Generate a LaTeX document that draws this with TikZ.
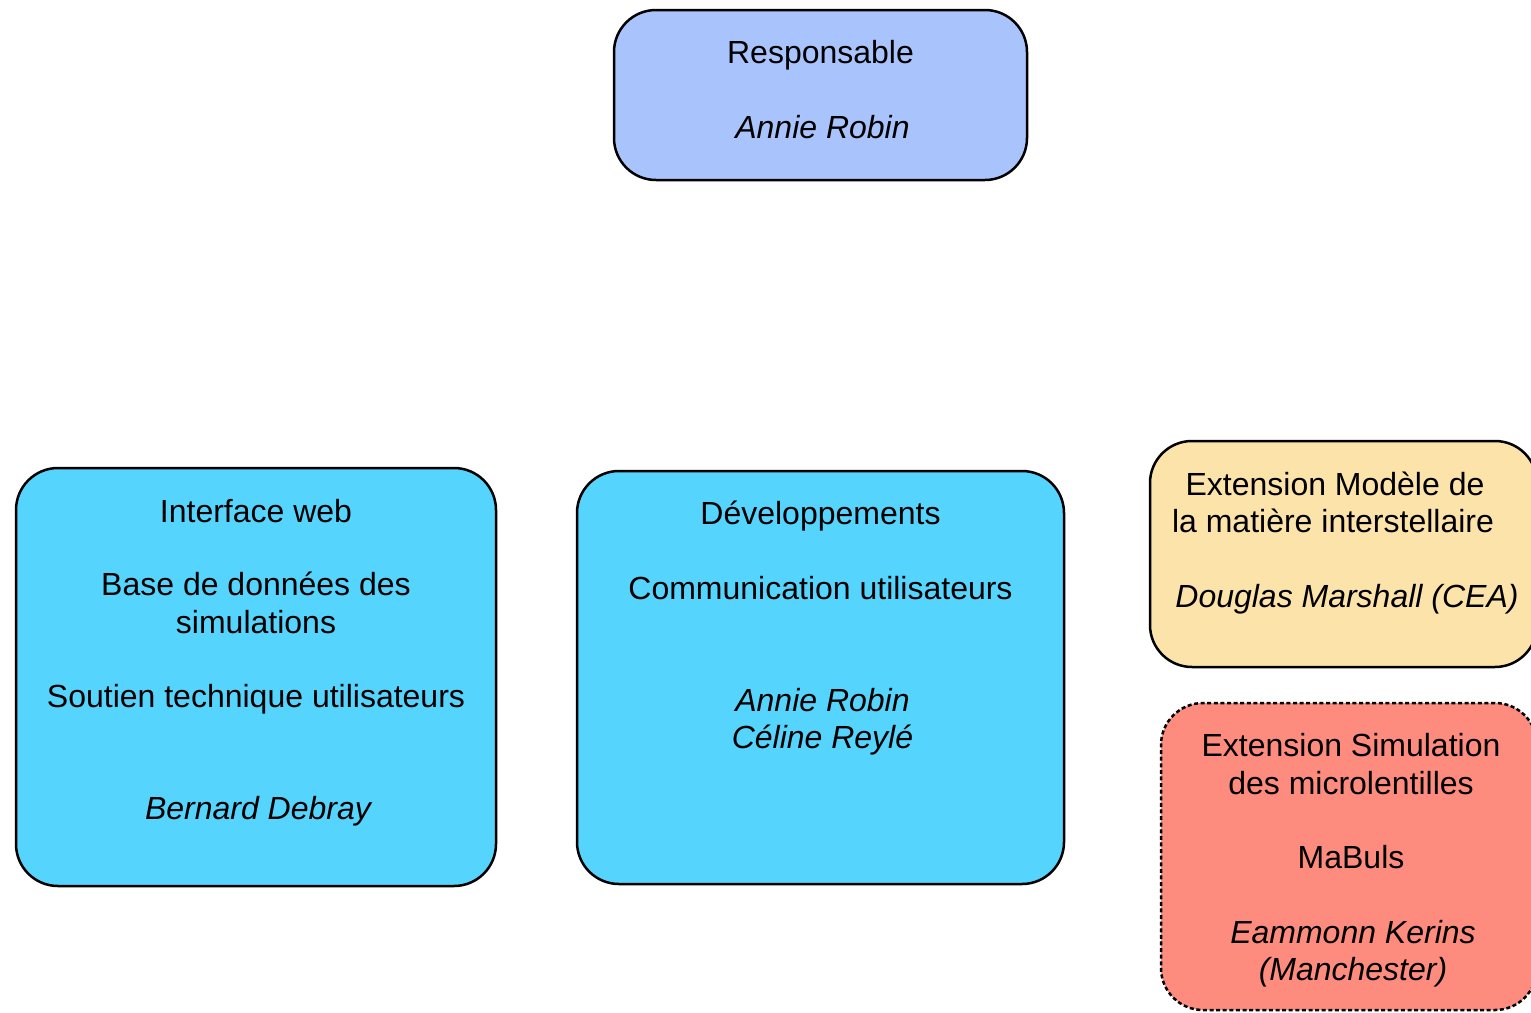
\documentclass[tikz,border=0pt]{standalone}
\usepackage{fontspec}
\setmainfont{Liberation Sans}
\definecolor{blueR}{HTML}{A9C4FC}
\definecolor{cyanB}{HTML}{55D4FD}
\definecolor{peach}{HTML}{FCE3AA}
\definecolor{salmon}{HTML}{FE8C7E}
\tikzset{
  box/.style={draw=black, line width=1.25pt, rounded corners=21pt, inner sep=0pt, rectangle},
  dashbox/.style={box, dash pattern=on 2pt off 1.3pt},
  txt/.style={anchor=base, inner sep=0pt, font=\fontsize{16pt}{19pt}\selectfont},
  persname/.style={txt, font=\fontsize{16pt}{19pt}\selectfont\itshape, xshift=1pt}
}
\begin{document}
\begin{tikzpicture}[x=0.5pt, y=-0.5pt]
\useasboundingbox (0,0) rectangle (1531,1012);
\clip (0,0) rectangle (1531,1012);
\fill[white] (0,0) rectangle (1531,1012);
% boxes
\node (resp) [box, fill=blueR, minimum width=206.5pt, minimum height=85pt] at (820.5,95) {};
\node (iface) [box, fill=cyanB, minimum width=240pt, minimum height=209pt] at (256,677) {};
\node (dev) [box, fill=cyanB, minimum width=243.5pt, minimum height=206.5pt] at (820.5,677.5) {};
\node (ism) [box, fill=peach, minimum width=193.5pt, minimum height=113pt] at (1343.5,554) {};
\node (micro) [dashbox, fill=salmon, minimum width=188pt, minimum height=153.5pt] at (1349,856.5) {};
% texts: Responsable
\node (respA) [txt] at (820.5,63) {Responsable};
\node (respB) [persname] at (820.5,138) {Annie Robin};
% Interface web
\node (ifA) [txt] at (256,522) {Interface web};
\node (ifB) [txt] at (256,595) {Base de données des};
\node (ifC) [txt] at (256,633) {simulations};
\node (ifD) [txt] at (256,707) {Soutien technique utilisateurs};
\node (ifE) [persname] at (256,819) {Bernard Debray};
% Developpements
\node (devA) [txt] at (820.5,524) {Développements};
\node (devB) [txt] at (820.5,599) {Communication utilisateurs};
\node (devC) [persname] at (820.5,711) {Annie Robin};
\node (devD) [persname] at (820.5,748) {Céline Reylé};
% ISM
\node (ismA) [txt] at (1335,495) {Extension Modèle de};
\node (ismB) [txt] at (1333,532) {la matière interstellaire};
\node (ismC) [persname] at (1345,607) {Douglas Marshall (CEA)};
% microlensing
\node (miA) [txt] at (1351,756) {Extension Simulation};
\node (miB) [txt] at (1351,794) {des microlentilles};
\node (miC) [txt] at (1351,868) {MaBuls};
\node (miD) [persname] at (1351,943) {Eammonn Kerins};
\node (miE) [persname] at (1351,980) {(Manchester)};
\end{tikzpicture}
\end{document}
